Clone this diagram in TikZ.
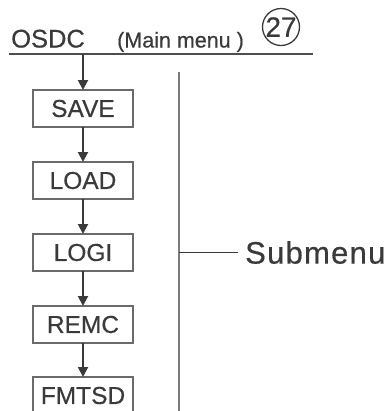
\documentclass[tikz,border=0pt]{standalone}
\usepackage{fontspec}
\setmainfont{Liberation Sans}[FakeBold=0.5]
\newfontfamily\spacedfont[LetterSpace=4, FakeBold=0.5]{Liberation Sans}
\usepackage{tikz}
\usetikzlibrary{positioning, arrows.meta}

\definecolor{inkgray}{HTML}{3A3A3A}
\definecolor{framegray}{HTML}{6A6A6A}
\definecolor{rulegray}{HTML}{7C7C7C}

\begin{document}
\begin{tikzpicture}[x=1bp, y=-1bp,
                menubox/.style={draw=framegray, line width=1.4bp, rectangle, minimum width=100bp, minimum height=37bp, inner sep=0pt, outer sep=0pt, text=inkgray, font=\fontsize{24.5bp}{27bp}\selectfont},
                title/.style={anchor=base west, inner sep=0pt, text=inkgray},
                flow/.style={draw=inkgray, line width=2bp, -{Triangle[length=10bp, width=10bp]}},
                headrule/.style={draw=inkgray!90, line width=2bp},
                subrule/.style={draw=rulegray, line width=2bp},
                numcircle/.style={draw=inkgray, line width=1.3bp, circle, minimum size=37bp, inner sep=0pt, text=inkgray, font=\fontsize{28bp}{30bp}\selectfont}
            ]
            \useasboundingbox (0,0) rectangle (390,411);

            % Hauptmenue
            \node[title, font=\fontsize{25.5bp}{28bp}\selectfont] (osdc) at (11,47.5) {OSDC};
            \node[title, font=\fontsize{21.5bp}{24bp}\selectfont] (mainmenu) at (117,47.5) {(Main menu )};
            \node[numcircle] (num) at (281,27) {27};
            \coordinate (ruleL) at (9,54);
            \coordinate (ruleR) at (313,54);
            \coordinate (mainout) at (83,54);
            \draw[headrule] (ruleL) -- (ruleR);

            % Untermenue-Kette
            \node[menubox] (SAVE) at (83,108.5) {SAVE};
            \node[menubox, below=35bp of SAVE] (LOAD) {LOAD};
            \node[menubox, below=35bp of LOAD] (LOGI) {LOGI};
            \node[menubox, below=35bp of LOGI] (REMC) {REMC};
            \node[menubox, below=34bp of REMC] (FMTSD) {FMTSD};

            % Pfeile
            \draw[flow] (mainout) -- (SAVE);
            \draw[flow] (SAVE) -- (LOAD);
            \draw[flow] (LOAD) -- (LOGI);
            \draw[flow] (LOGI) -- (REMC);
            \draw[flow] (REMC) -- (FMTSD);

            % Klammer fuer das Untermenue
            \node[anchor=west, inner sep=0pt, text=inkgray, font=\spacedfont\fontsize{31bp}{33bp}\selectfont] (submenu) at (245,252.5) {Submenu};
            \coordinate (subtop) at (179,72);
            \coordinate (subbot) at (179,420);
            \draw[subrule] (subtop) -- (subbot);
            \draw[draw=inkgray, line width=1.4bp] (subtop |- submenu.west) -- ([xshift=-7bp]submenu.west);

        \end{tikzpicture}
\end{document}
